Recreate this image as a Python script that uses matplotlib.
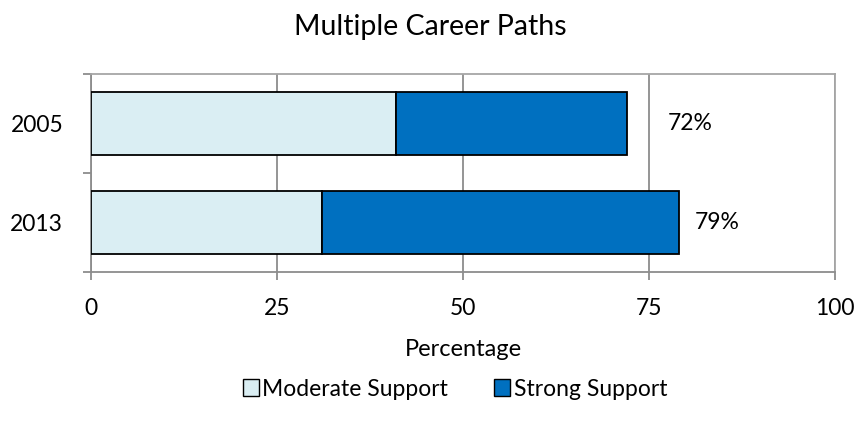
import matplotlib
matplotlib.use("Agg")
import matplotlib.pyplot as plt
from matplotlib.patches import Patch

plt.rcParams['font.family'] = ['Lato', 'DejaVu Sans']

years = ["2005", "2013"]
moderate = [41, 31]
strong = [31, 48]
total_labels = ["72%", "79%"]
label_offsets_px = [41, 16]

fig = plt.figure(figsize=(8.6, 4.36), dpi=100)
ax = fig.add_axes([91/860, 1-272/436, (835-91)/860, (272-74)/436])

ypos = list(range(len(years)))
bw = 0.645
c_mod = "#DAEEF3"
c_str = "#0070C0"
ax.barh(ypos, moderate, height=bw, color=c_mod, edgecolor="black", linewidth=1.3, zorder=3)
ax.barh(ypos, strong, left=moderate, height=bw, color=c_str, edgecolor="black", linewidth=1.3, zorder=3)

for i in ypos:
    tot = moderate[i] + strong[i]
    ax.annotate(total_labels[i], xy=(tot, i), xytext=(label_offsets_px[i]*0.72, 0),
                textcoords="offset points", va="center", ha="left", fontsize=16.5)

ax.set_xlim(0, 100)
ax.set_ylim(len(years) - 0.5, -0.5)
ax.set_xticks([0, 25, 50, 75, 100])
ax.set_xticklabels(["0", "25", "50", "75", "100"], fontsize=16.5)
ax.set_yticks(ypos)
ax.set_yticklabels(years, fontsize=16.5)
ax.set_yticks([-0.5, 0.5, 1.5], minor=True)
ax.tick_params(axis='y', which='major', length=0, pad=20)
ax.tick_params(axis='y', which='minor', length=6, width=1.3, color="#8C8C8C")
ax.tick_params(axis='x', which='major', length=6, width=1.3, color="#8C8C8C", pad=13)
ax.grid(axis='x', color="#8C8C8C", linewidth=1.3, zorder=0)
for s in ax.spines.values():
    s.set_color("#8C8C8C")
    s.set_linewidth(1.3)
ax.spines['right'].set_color("#A6A6A6")
ax.spines['top'].set_color("#A6A6A6")

fig.text(463/860, 1-349/436, "Percentage", ha="center", va="center", fontsize=17)
fig.text(0.5, 1-27/436, "Multiple Career Paths", ha="center", va="center", fontsize=20.5)

handles = [Patch(facecolor=c_mod, edgecolor="black", label="Moderate Support"),
           Patch(facecolor=c_str, edgecolor="black", label="Strong Support")]
fig.legend(handles=handles, loc="center", bbox_to_anchor=(455/860, 1-389/436), ncol=2,
           frameon=False, fontsize=16.5, handlelength=0.7, handleheight=0.7,
           handletextpad=0.15, columnspacing=2.0)

fig.savefig("out.png", dpi=100)
